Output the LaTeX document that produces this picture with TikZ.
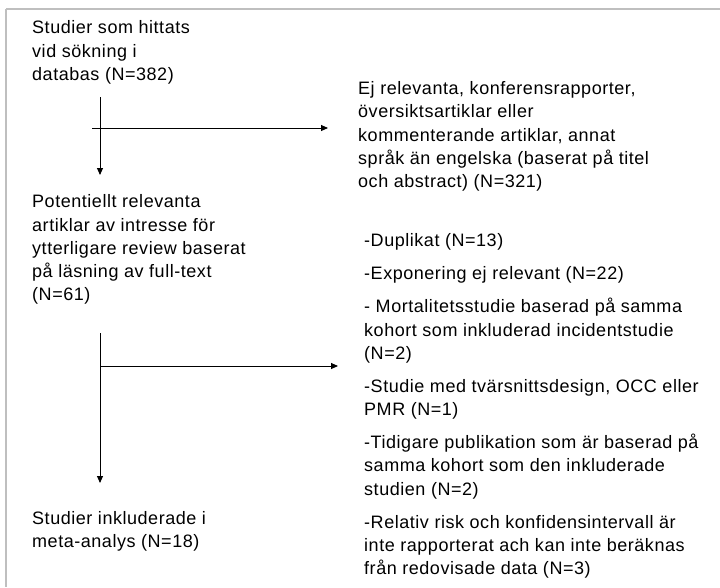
\documentclass[tikz,border=0pt]{standalone}
\usepackage{fontspec}
\setmainfont[LetterSpace=3]{Liberation Sans}
\usetikzlibrary{arrows.meta}
\begin{document}
\begin{tikzpicture}[x=1pt,y=-1pt,
  txt/.style={anchor=base west, inner sep=0pt, align=left,
    font=\fontsize{18}{23.3}\selectfont},
  frameline/.style={draw=black!25, line width=2pt},
  arr/.style={draw=black, line width=0.9pt, -{Triangle[length=7pt,width=6pt]}}]
\useasboundingbox (0,0) rectangle (720,587);

% open frame: top and left edges only
\draw[frameline] (6,9) -- (720,9);
\draw[frameline] (6,9) -- (6,587);

% text blocks, each placed by the baseline of its last line
\node[txt] (src) at (32,80.5) {Studier som hittats\\vid sökning i\\databas (N=382)};
\node[txt] (excl1) at (358,187.7) {Ej relevanta, konferensrapporter,\\översiktsartiklar eller\\kommenterande artiklar, annat\\språk än engelska (baserat på titel\\och abstract) (N=321)};
\node[txt] (full) at (32,300.9) {Potentiellt relevanta\\artiklar av intresse för\\ytterligare review baserat\\på läsning av full-text\\(N=61)};
\node[txt] (incl) at (32,547.3) {Studier inkluderade i\\meta-analys (N=18)};
\node[txt] (excl2) at (364,574.8) {-Duplikat (N=13)\\[9.7pt]-Exponering ej relevant (N=22)\\[9.7pt]- Mortalitetsstudie baserad på samma\\kohort som inkluderad incidentstudie\\(N=2)\\[9.7pt]-Studie med tvärsnittsdesign, OCC eller\\PMR (N=1)\\[9.7pt]-Tidigare publikation som är baserad på\\samma kohort som den inkluderade\\studien (N=2)\\[9.7pt]-Relativ risk och konfidensintervall är\\inte rapporterat ach kan inte beräknas\\från redovisade data (N=3)};

% connector end points
\coordinate (s1) at (100,97);
\coordinate (e1) at (100,175);
\coordinate (b1) at (92,128);
\coordinate (r1) at (328,128);
\coordinate (s2) at (100,333);
\coordinate (e2) at (100,483);
\coordinate (b2) at (100,366);
\coordinate (r2) at (338,366);

% first stage: down to full-text review, branch to exclusions
\draw[arr] (s1) -- (e1);
\draw[arr] (b1) -- (r1);
% second stage: down to included studies, branch to exclusions
\draw[arr] (s2) -- (e2);
\draw[arr] (b2) -- (r2);
\end{tikzpicture}
\end{document}
